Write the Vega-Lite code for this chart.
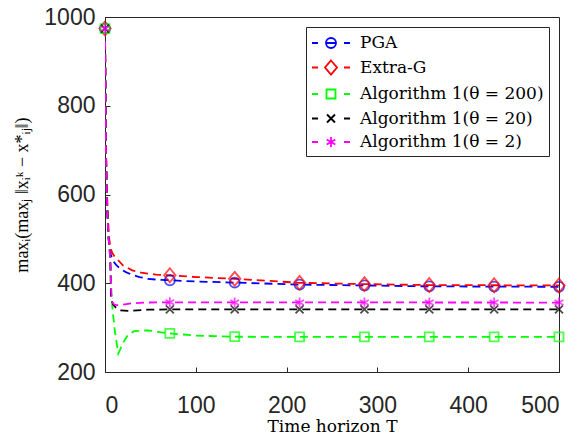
{
  "$schema": "https://vega.github.io/schema/vega-lite/v6.json",
  "width": 454,
  "height": 355,
  "autosize": {"type": "none"},
  "padding": {"left": 105, "top": 17, "right": 21, "bottom": 64},
  "background": "white",
  "datasets": {
    "curves": [
      {"s": "PGA", "T": 0, "v": 974}, {"s": "PGA", "T": 1, "v": 700}, {"s": "PGA", "T": 2, "v": 600}, {"s": "PGA", "T": 3, "v": 540}, {"s": "PGA", "T": 4, "v": 500}, {"s": "PGA", "T": 5, "v": 482}, {"s": "PGA", "T": 6.6, "v": 463}, {"s": "PGA", "T": 8.4, "v": 452}, {"s": "PGA", "T": 12, "v": 442}, {"s": "PGA", "T": 17, "v": 432}, {"s": "PGA", "T": 23, "v": 425}, {"s": "PGA", "T": 30, "v": 419}, {"s": "PGA", "T": 38, "v": 414}, {"s": "PGA", "T": 47, "v": 410}, {"s": "PGA", "T": 58, "v": 408}, {"s": "PGA", "T": 71.4, "v": 406.7}, {"s": "PGA", "T": 100, "v": 404}, {"s": "PGA", "T": 142.9, "v": 401.5}, {"s": "PGA", "T": 214.3, "v": 397}, {"s": "PGA", "T": 285.7, "v": 395}, {"s": "PGA", "T": 357.1, "v": 393}, {"s": "PGA", "T": 428.6, "v": 392.5}, {"s": "PGA", "T": 500, "v": 392},
      {"s": "Extra-G", "T": 0, "v": 974}, {"s": "Extra-G", "T": 1, "v": 720}, {"s": "Extra-G", "T": 2, "v": 620}, {"s": "Extra-G", "T": 3, "v": 560}, {"s": "Extra-G", "T": 4, "v": 520}, {"s": "Extra-G", "T": 4.7, "v": 500}, {"s": "Extra-G", "T": 6, "v": 480}, {"s": "Extra-G", "T": 8, "v": 468}, {"s": "Extra-G", "T": 11, "v": 459}, {"s": "Extra-G", "T": 14, "v": 453}, {"s": "Extra-G", "T": 20, "v": 440}, {"s": "Extra-G", "T": 30, "v": 429}, {"s": "Extra-G", "T": 40, "v": 424}, {"s": "Extra-G", "T": 56, "v": 419.5}, {"s": "Extra-G", "T": 71.4, "v": 418}, {"s": "Extra-G", "T": 100, "v": 414}, {"s": "Extra-G", "T": 142.9, "v": 410}, {"s": "Extra-G", "T": 214.3, "v": 401}, {"s": "Extra-G", "T": 285.7, "v": 398}, {"s": "Extra-G", "T": 357.1, "v": 396}, {"s": "Extra-G", "T": 428.6, "v": 395.5}, {"s": "Extra-G", "T": 500, "v": 395},
      {"s": "Algorithm 1(θ = 200)", "T": 0, "v": 974}, {"s": "Algorithm 1(θ = 200)", "T": 1, "v": 700}, {"s": "Algorithm 1(θ = 200)", "T": 2, "v": 600}, {"s": "Algorithm 1(θ = 200)", "T": 3, "v": 540}, {"s": "Algorithm 1(θ = 200)", "T": 4, "v": 500}, {"s": "Algorithm 1(θ = 200)", "T": 5, "v": 482}, {"s": "Algorithm 1(θ = 200)", "T": 6, "v": 440}, {"s": "Algorithm 1(θ = 200)", "T": 7, "v": 380}, {"s": "Algorithm 1(θ = 200)", "T": 8.4, "v": 339}, {"s": "Algorithm 1(θ = 200)", "T": 11, "v": 290}, {"s": "Algorithm 1(θ = 200)", "T": 14.6, "v": 241.5}, {"s": "Algorithm 1(θ = 200)", "T": 17, "v": 252}, {"s": "Algorithm 1(θ = 200)", "T": 19.4, "v": 264}, {"s": "Algorithm 1(θ = 200)", "T": 25, "v": 283}, {"s": "Algorithm 1(θ = 200)", "T": 32, "v": 292}, {"s": "Algorithm 1(θ = 200)", "T": 47, "v": 294}, {"s": "Algorithm 1(θ = 200)", "T": 60, "v": 290}, {"s": "Algorithm 1(θ = 200)", "T": 71.4, "v": 287}, {"s": "Algorithm 1(θ = 200)", "T": 100, "v": 282}, {"s": "Algorithm 1(θ = 200)", "T": 142.9, "v": 279.5}, {"s": "Algorithm 1(θ = 200)", "T": 214.3, "v": 279}, {"s": "Algorithm 1(θ = 200)", "T": 500, "v": 279},
      {"s": "Algorithm 1(θ = 20)", "T": 0, "v": 974}, {"s": "Algorithm 1(θ = 20)", "T": 1, "v": 700}, {"s": "Algorithm 1(θ = 20)", "T": 2, "v": 600}, {"s": "Algorithm 1(θ = 20)", "T": 3, "v": 540}, {"s": "Algorithm 1(θ = 20)", "T": 4, "v": 500}, {"s": "Algorithm 1(θ = 20)", "T": 5, "v": 482}, {"s": "Algorithm 1(θ = 20)", "T": 6, "v": 440}, {"s": "Algorithm 1(θ = 20)", "T": 6.6, "v": 365}, {"s": "Algorithm 1(θ = 20)", "T": 9, "v": 352}, {"s": "Algorithm 1(θ = 20)", "T": 12, "v": 345}, {"s": "Algorithm 1(θ = 20)", "T": 16, "v": 339}, {"s": "Algorithm 1(θ = 20)", "T": 27, "v": 337.5}, {"s": "Algorithm 1(θ = 20)", "T": 47, "v": 340.5}, {"s": "Algorithm 1(θ = 20)", "T": 71.4, "v": 341}, {"s": "Algorithm 1(θ = 20)", "T": 500, "v": 341},
      {"s": "Algorithm 1(θ = 2)", "T": 0, "v": 974}, {"s": "Algorithm 1(θ = 2)", "T": 1, "v": 700}, {"s": "Algorithm 1(θ = 2)", "T": 2, "v": 600}, {"s": "Algorithm 1(θ = 2)", "T": 3, "v": 540}, {"s": "Algorithm 1(θ = 2)", "T": 4, "v": 500}, {"s": "Algorithm 1(θ = 2)", "T": 5, "v": 482}, {"s": "Algorithm 1(θ = 2)", "T": 6, "v": 440}, {"s": "Algorithm 1(θ = 2)", "T": 7, "v": 375}, {"s": "Algorithm 1(θ = 2)", "T": 8, "v": 358}, {"s": "Algorithm 1(θ = 2)", "T": 10, "v": 352}, {"s": "Algorithm 1(θ = 2)", "T": 15.7, "v": 350}, {"s": "Algorithm 1(θ = 2)", "T": 20, "v": 352}, {"s": "Algorithm 1(θ = 2)", "T": 30, "v": 355}, {"s": "Algorithm 1(θ = 2)", "T": 45, "v": 356.5}, {"s": "Algorithm 1(θ = 2)", "T": 71.4, "v": 357}, {"s": "Algorithm 1(θ = 2)", "T": 500, "v": 356.5}
    ],
    "markers": [
      {"s": "PGA", "T": 0, "v": 974}, {"s": "PGA", "T": 71.43, "v": 406.7}, {"s": "PGA", "T": 142.86, "v": 401.5}, {"s": "PGA", "T": 214.29, "v": 397}, {"s": "PGA", "T": 285.71, "v": 395}, {"s": "PGA", "T": 357.14, "v": 393}, {"s": "PGA", "T": 428.57, "v": 392.5}, {"s": "PGA", "T": 500, "v": 392},
      {"s": "Extra-G", "T": 0, "v": 974}, {"s": "Extra-G", "T": 71.43, "v": 418}, {"s": "Extra-G", "T": 142.86, "v": 410}, {"s": "Extra-G", "T": 214.29, "v": 401}, {"s": "Extra-G", "T": 285.71, "v": 398}, {"s": "Extra-G", "T": 357.14, "v": 396}, {"s": "Extra-G", "T": 428.57, "v": 395.5}, {"s": "Extra-G", "T": 500, "v": 395},
      {"s": "Algorithm 1(θ = 200)", "T": 0, "v": 974}, {"s": "Algorithm 1(θ = 200)", "T": 71.43, "v": 287}, {"s": "Algorithm 1(θ = 200)", "T": 142.86, "v": 279.5}, {"s": "Algorithm 1(θ = 200)", "T": 214.29, "v": 279}, {"s": "Algorithm 1(θ = 200)", "T": 285.71, "v": 279}, {"s": "Algorithm 1(θ = 200)", "T": 357.14, "v": 279}, {"s": "Algorithm 1(θ = 200)", "T": 428.57, "v": 279}, {"s": "Algorithm 1(θ = 200)", "T": 500, "v": 279},
      {"s": "Algorithm 1(θ = 20)", "T": 0, "v": 974}, {"s": "Algorithm 1(θ = 20)", "T": 71.43, "v": 341}, {"s": "Algorithm 1(θ = 20)", "T": 142.86, "v": 341}, {"s": "Algorithm 1(θ = 20)", "T": 214.29, "v": 341}, {"s": "Algorithm 1(θ = 20)", "T": 285.71, "v": 341}, {"s": "Algorithm 1(θ = 20)", "T": 357.14, "v": 341}, {"s": "Algorithm 1(θ = 20)", "T": 428.57, "v": 341}, {"s": "Algorithm 1(θ = 20)", "T": 500, "v": 341},
      {"s": "Algorithm 1(θ = 2)", "T": 0, "v": 974}, {"s": "Algorithm 1(θ = 2)", "T": 71.43, "v": 357}, {"s": "Algorithm 1(θ = 2)", "T": 142.86, "v": 356.5}, {"s": "Algorithm 1(θ = 2)", "T": 214.29, "v": 356.5}, {"s": "Algorithm 1(θ = 2)", "T": 285.71, "v": 356.5}, {"s": "Algorithm 1(θ = 2)", "T": 357.14, "v": 356.5}, {"s": "Algorithm 1(θ = 2)", "T": 428.57, "v": 356.5}, {"s": "Algorithm 1(θ = 2)", "T": 500, "v": 356.5}
    ]
  },
  "config": {
    "view": {"stroke": "#262626", "strokeWidth": 1},
    "axis": {
      "grid": false,
      "domainColor": "#262626",
      "tickColor": "#262626",
      "labelColor": "#262626",
      "labelFont": "Liberation Sans",
      "labelFontSize": 23,
      "titleFont": "DejaVu Serif",
      "titleFontSize": 17,
      "titleFontWeight": "normal",
      "titleColor": "black",
      "tickSize": -5,
      "format": "d"
    },
    "legend": {
      "orient": "top-right",
      "offset": 10,
      "padding": 5,
      "strokeColor": "#262626",
      "fillColor": "white",
      "labelFont": "DejaVu Serif",
      "labelFontSize": 17,
      "labelColor": "black",
      "labelLimit": 400,
      "rowPadding": 4.5,
      "labelOffset": 27,
      "symbolStrokeWidth": 1.8
    }
  },
  "resolve": {"scale": {"color": "independent", "shape": "independent"}},
  "layer": [
    {
      "data": {"name": "curves"},
      "mark": {"type": "line", "strokeDash": [8, 5], "strokeWidth": 1.8, "clip": true},
      "encoding": {
        "x": {"field": "T", "type": "quantitative", "scale": {"domain": [0, 500], "nice": false},
              "axis": {"values": [0, 100, 200, 300, 400, 500], "title": "Time horizon T", "labelPadding": 27, "titlePadding": 1}},
        "y": {"field": "v", "type": "quantitative", "scale": {"domain": [200, 1000], "nice": false},
              "axis": {"values": [200, 400, 600, 800, 1000], "title": "maxᵢ(maxⱼ ‖xᵢᵏ − x*ᵢⱼ‖)", "titleFont": "Liberation Serif", "titleFontSize": 18, "labelPadding": 15, "titlePadding": 12}},
        "color": {"field": "s", "type": "nominal",
                  "scale": {"domain": ["PGA", "Extra-G", "Algorithm 1(θ = 200)", "Algorithm 1(θ = 20)", "Algorithm 1(θ = 2)"],
                            "range": ["#0000ff", "#ff0000", "#00ff00", "#000000", "#ff00ff"]},
                  "legend": null}
      }
    },
    {
      "data": {"name": "markers"},
      "mark": {"type": "point", "filled": false, "strokeWidth": 1.8, "size": 100},
      "encoding": {
        "x": {"field": "T", "type": "quantitative"},
        "y": {"field": "v", "type": "quantitative"},
        "color": {"field": "s", "type": "nominal",
                  "scale": {"domain": ["PGA", "Extra-G", "Algorithm 1(θ = 200)", "Algorithm 1(θ = 20)", "Algorithm 1(θ = 2)"],
                            "range": ["#0000ff", "#ff0000", "#00ff00", "#000000", "#ff00ff"]},
                  "legend": null},
        "shape": {"field": "s", "type": "nominal",
                  "scale": {"domain": ["PGA", "Extra-G", "Algorithm 1(θ = 200)", "Algorithm 1(θ = 20)", "Algorithm 1(θ = 2)"],
                            "range": ["circle", "M0,-1.4L1.15,0L0,1.4L-1.15,0Z", "M-0.9,-0.9H0.9V0.9H-0.9Z", "M-0.8,-0.8L0.8,0.8M-0.8,0.8L0.8,-0.8", "M0,-1V1M-0.87,-0.5L0.87,0.5M-0.87,0.5L0.87,-0.5"]},
                  "legend": null}
      }
    },
    {
      "data": {"name": "markers"},
      "mark": {"type": "point", "filled": false, "strokeWidth": 1.8, "size": 100, "opacity": 0},
      "encoding": {
        "x": {"field": "T", "type": "quantitative"},
        "y": {"field": "v", "type": "quantitative"},
        "color": {"field": "s", "type": "nominal",
                  "scale": {"domain": ["PGA", "Extra-G", "Algorithm 1(θ = 200)", "Algorithm 1(θ = 20)", "Algorithm 1(θ = 2)"],
                            "range": ["#0000ff", "#ff0000", "#00ff00", "#000000", "#ff00ff"]},
                  "legend": {"title": null, "symbolSize": 400, "symbolOpacity": 1}},
        "shape": {"field": "s", "type": "nominal",
                  "scale": {"domain": ["PGA", "Extra-G", "Algorithm 1(θ = 200)", "Algorithm 1(θ = 20)", "Algorithm 1(θ = 2)"],
                            "range": [
                              "M-1,0H-0.4M2.2,0H2.8M1.4,0A0.5,0.5,0,1,1,0.4,0A0.5,0.5,0,1,1,1.4,0M0.4,0H1.4",
                              "M-1,0H-0.4M2.2,0H2.8M0.9,-0.7L1.5,0L0.9,0.7L0.3,0Z",
                              "M-1,0H-0.4M2.2,0H2.8M0.45,-0.45H1.35V0.45H0.45Z",
                              "M-1,0H-0.4M2.2,0H2.8M0.5,-0.4L1.3,0.4M0.5,0.4L1.3,-0.4",
                              "M-1,0H-0.4M2.2,0H2.8M0.9,-0.5V0.5M0.47,-0.25L1.33,0.25M0.47,0.25L1.33,-0.25"
                            ]},
                  "legend": {"title": null, "symbolSize": 400, "symbolOpacity": 1}}
      }
    }
  ]
}
